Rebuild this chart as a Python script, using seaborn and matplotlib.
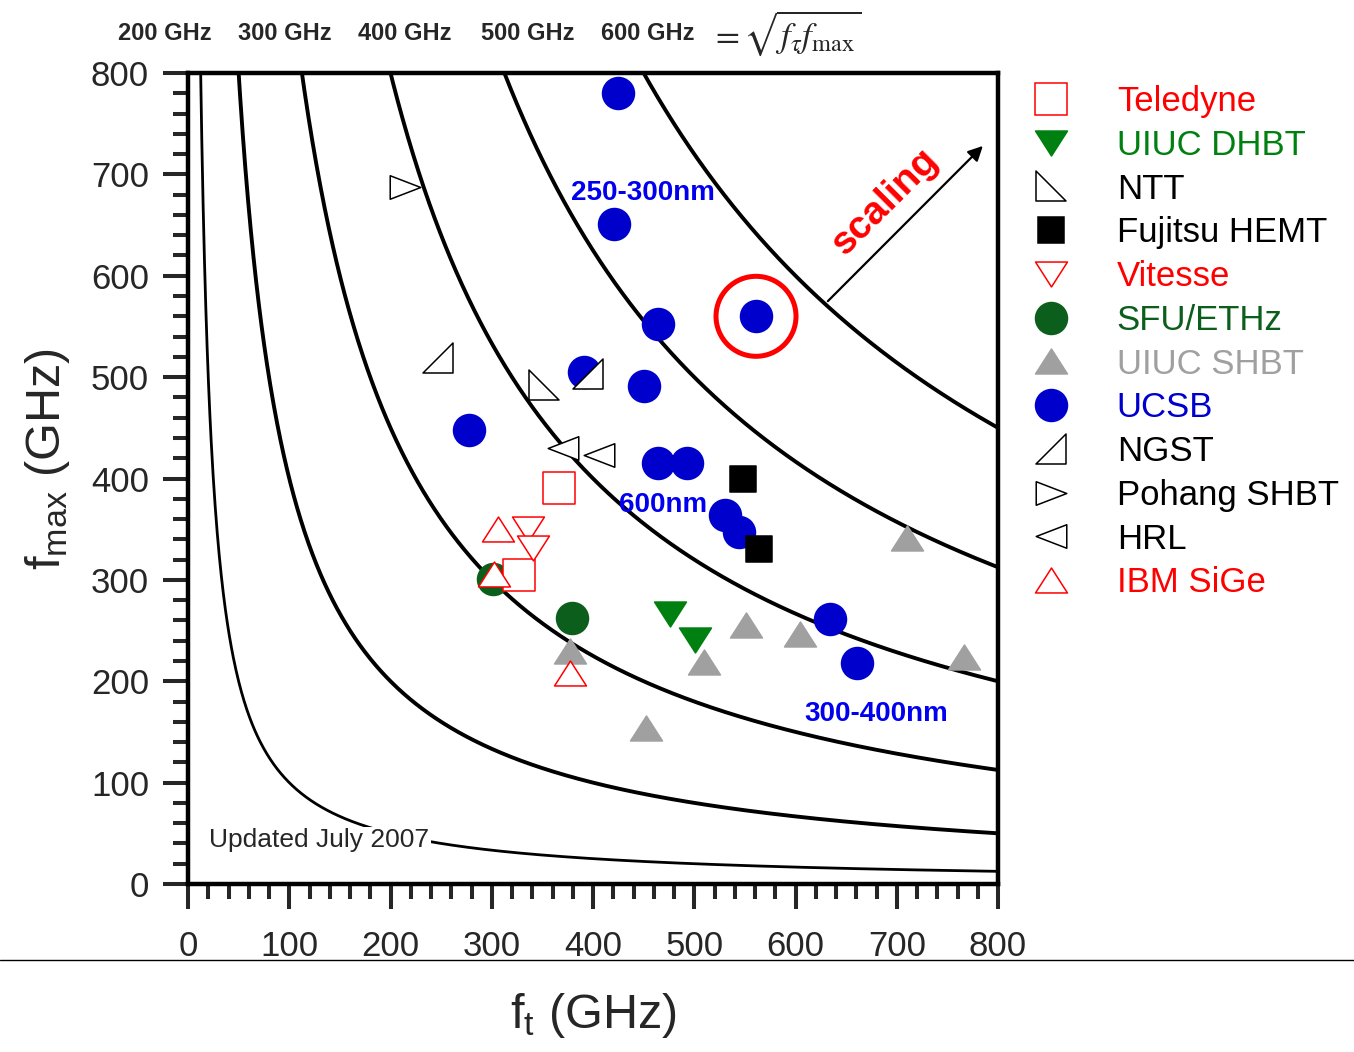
import numpy as np
import matplotlib
matplotlib.use("Agg")
import matplotlib.pyplot as plt
import seaborn as sns
from matplotlib.lines import Line2D
from matplotlib.path import Path
from matplotlib.ticker import MultipleLocator

# constant sqrt(ft*fmax) levels (GHz)
levels = [100, 200, 300, 400, 500, 600]
header_labels = ["200 GHz", "300 GHz", "400 GHz", "500 GHz", "600 GHz"]

# data: ft (GHz), fmax (GHz)
teledyne_ft = [366, 327]
teledyne_fm = [391, 305]
uiuc_dhbt_ft = [476, 501]
uiuc_dhbt_fm = [266, 241]
ntt_ft = [352]
ntt_fm = [492]
fujitsu_ft = [548, 564]
fujitsu_fm = [400, 330]
vitesse_ft = [336, 341]
vitesse_fm = [350, 331]
sfu_ft = [301, 379]
sfu_fm = [301, 262]
uiuc_shbt_ft = [377, 452, 510, 551, 604, 710, 766]
uiuc_shbt_fm = [230, 154, 219, 255, 247, 341, 224]
ucsb_ft = [425, 421, 464, 391, 450, 278, 464, 493, 561, 530, 544, 634, 661]
ucsb_fm = [780, 651, 552, 505, 491, 448, 415, 415, 560, 364, 347, 261, 218]
ngst_ft = [247, 395]
ngst_fm = [519, 503]
pohang_ft = [214]
pohang_fm = [688]
hrl_ft = [370, 406]
hrl_fm = [430, 423]
ibm_ft = [306, 302, 377]
ibm_fm = [350, 306, 208]

highlight_ft = [561]
highlight_fm = [560]

sns.set_style("ticks")
plt.rcParams["font.family"] = ["Liberation Sans", "DejaVu Sans"]
plt.rcParams["mathtext.fontset"] = "custom"
plt.rcParams["mathtext.rm"] = "Liberation Sans"
plt.rcParams["mathtext.it"] = "Liberation Sans:italic"
plt.rcParams["mathtext.bf"] = "Liberation Sans:bold"


def poly(verts):
    return Path(verts + [verts[0]], closed=True)


# custom marker shapes (closed outlines)
tri_up = poly([(-1, -0.78), (1, -0.78), (0, 0.78)])
tri_down = poly([(-1, 0.78), (1, 0.78), (0, -0.78)])
tri_right = poly([(-1, -0.77), (-1, 0.77), (1, 0)])
tri_left = poly([(1, -0.77), (1, 0.77), (-1, 0)])
tri_ntt = poly([(-1, 1), (-1, -1), (1, -1)])
tri_ngst = poly([(1, 1), (1, -1), (-1, -1)])

RED = "#FF0000"
BLUE = "#0000CC"
GREEN = "#008010"
DKGREEN = "#0B5E1B"
GRAY = "#A0A0A0"

# name, x, y, marker, size(pt), face, edge, text colour
groups = [
    ("Teledyne", teledyne_ft, teledyne_fm, "s", 23, "white", RED, RED),
    ("UIUC DHBT", uiuc_dhbt_ft, uiuc_dhbt_fm, tri_down, 23, GREEN, GREEN, GREEN),
    ("NTT", ntt_ft, ntt_fm, tri_ntt, 22, "white", "black", "black"),
    ("Fujitsu HEMT", fujitsu_ft, fujitsu_fm, "s", 19, "black", "black", "black"),
    ("Vitesse", vitesse_ft, vitesse_fm, tri_down, 23, "white", RED, RED),
    ("SFU/ETHz", sfu_ft, sfu_fm, "o", 23, DKGREEN, DKGREEN, DKGREEN),
    ("UIUC SHBT", uiuc_shbt_ft, uiuc_shbt_fm, tri_up, 23, GRAY, GRAY, GRAY),
    ("UCSB", ucsb_ft, ucsb_fm, "o", 23, BLUE, BLUE, BLUE),
    ("NGST", ngst_ft, ngst_fm, tri_ngst, 22, "white", "black", "black"),
    ("Pohang SHBT", pohang_ft, pohang_fm, tri_right, 22, "white", "black", "black"),
    ("HRL", hrl_ft, hrl_fm, tri_left, 22, "white", "black", "black"),
    ("IBM SiGe", ibm_ft, ibm_fm, tri_up, 23, "white", RED, RED),
]
draw_order = ["UCSB", "SFU/ETHz", "UIUC SHBT", "UIUC DHBT", "Fujitsu HEMT",
              "Teledyne", "Vitesse", "IBM SiGe", "NTT", "NGST", "Pohang SHBT", "HRL"]

W, H = 1354, 1052
fig = plt.figure(figsize=(W / 100, H / 100), dpi=100)
ax = fig.add_axes([188 / W, 1 - 884 / H, 810 / W, 811 / H])

# iso-curves of sqrt(ft*fmax)
ft_grid = np.linspace(5, 800, 1200)
for lev in levels:
    fm = lev ** 2 / ft_grid
    m = fm <= 830
    sns.lineplot(x=ft_grid[m], y=fm[m], color="black", lw=2.0 if lev == 100 else 2.8,
                 sort=False, estimator=None, ax=ax, zorder=1)

lookup = {g[0]: g for g in groups}
for name in draw_order:
    _, xs, ys, mk, ms, fc, ec, _tc = lookup[name]
    sns.scatterplot(x=xs, y=ys, marker=mk, s=ms ** 2, facecolor=fc, edgecolor=ec,
                    linewidth=1.1, ax=ax, zorder=3, legend=False)

# highlight circle
sns.scatterplot(x=highlight_ft, y=highlight_fm, marker="o", s=57.6 ** 2,
                facecolor="none", edgecolor=RED, linewidth=3.6, ax=ax, zorder=4,
                legend=False)

ax.set_xlim(0, 800)
ax.set_ylim(0, 800)
ax.set_xticks(range(0, 801, 100))
ax.set_yticks(range(0, 801, 100))
ax.xaxis.set_minor_locator(MultipleLocator(20))
ax.yaxis.set_minor_locator(MultipleLocator(20))
ax.tick_params(which="major", direction="out", length=18, width=2.9, labelsize=25)
ax.tick_params(axis="x", which="major", pad=15)
ax.tick_params(axis="y", which="major", pad=10)
ax.tick_params(which="minor", direction="out", length=11, width=2.9)
for sp in ax.spines.values():
    sp.set_linewidth(3.2)
    sp.set_color("black")

ax.set_xlabel(r"f$_{\mathrm{t}}$ (GHz)", fontsize=35)
ax.set_ylabel(r"f$_{\mathrm{max}}$ (GHz)", fontsize=35)
ax.xaxis.set_label_coords(0.5, -0.132)
ax.yaxis.set_label_coords(-0.143, 0.524)

# annotations
ax.text(449, 682, "250-300nm", color="#0000EE", fontsize=20, fontweight="bold",
        ha="center", va="center", zorder=5)
ax.text(469, 374, "600nm", color="#0000EE", fontsize=20, fontweight="bold",
        ha="center", va="center", zorder=5)
ax.text(680, 168, "300-400nm", color="#0000EE", fontsize=20, fontweight="bold",
        ha="center", va="center", zorder=5)
ax.text(21, 43, "Updated July 2007", fontsize=19, ha="left", va="center", zorder=5,
        bbox=dict(facecolor="white", edgecolor="none", pad=1))
ax.text(689, 673, "scaling", color=RED, fontsize=28, fontweight="bold", rotation=45,
        ha="center", va="center", zorder=5)
ax.annotate("", xy=(787, 730), xytext=(630, 573),
            arrowprops=dict(arrowstyle="-|>", color="black", lw=1.6, mutation_scale=22),
            zorder=5)

# header row
for lab, px in zip(header_labels, [165, 285, 405, 528, 648]):
    fig.text(px / W, 1 - 34 / H, lab, fontsize=17, fontweight="bold",
             ha="center", va="center")
fig.text(710 / W, 1 - 33 / H, r"$=\sqrt{f_{\tau}f_{\max}}$", fontsize=25,
         math_fontfamily="stix", ha="left", va="center")

# separator line
fig.add_artist(Line2D([0, 1], [1 - 960 / H, 1 - 960 / H], transform=fig.transFigure,
                      color="black", lw=1.0))

# legend
handles = []
for name, xs, ys, mk, ms, fc, ec, tc in groups:
    handles.append(Line2D([], [], linestyle="none", marker=mk, markersize=ms,
                          markerfacecolor=fc, markeredgecolor=ec, markeredgewidth=1.1))
fig.legend(handles, [g[0] for g in groups], labelcolor=[g[7] for g in groups],
           loc="upper left", bbox_to_anchor=(1023 / W, 1 - 85 / H), frameon=False,
           fontsize=25, handlelength=1.6, handletextpad=1.1, labelspacing=0.31,
           borderpad=0, borderaxespad=0)

fig.savefig("out.png", dpi=100)
